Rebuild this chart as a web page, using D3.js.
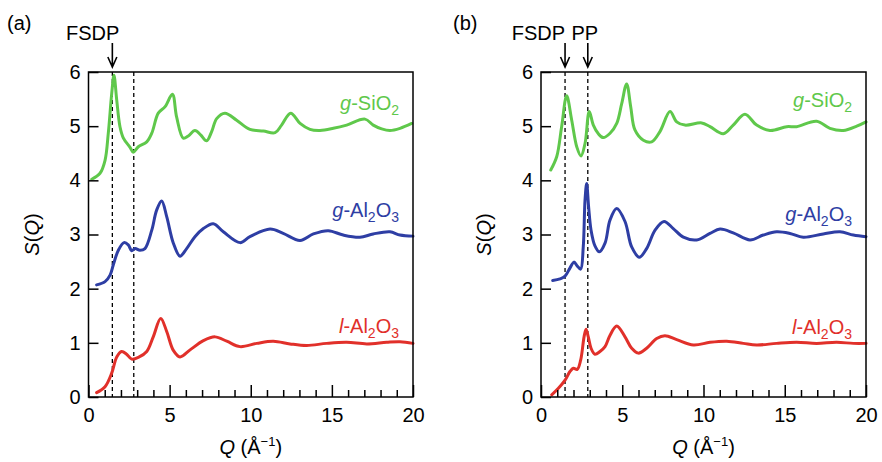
<!DOCTYPE html>
<html>
<head>
<meta charset="utf-8">
<script src="https://cdn.jsdelivr.net/npm/d3@7"></script>
<style>
  html, body { margin: 0; padding: 0; background: #fff; }
  svg { display: block; font-family: "Liberation Sans", Arial, Helvetica, sans-serif; }
</style>
</head>
<body>
<svg id="chart" width="882" height="462"></svg>
<script>
// Structure factors S(Q), offset vertically: SiO2 +4, g-Al2O3 +2, l-Al2O3 +0
// Panel (a)
const aSiO2 = [[0.2,4.02],[0.71,4.13],[1.02,4.37],[1.22,4.87],[1.43,5.6],[1.57,5.94],[1.74,5.48],[1.94,4.99],[2.15,4.78],[2.56,4.61],[2.76,4.52],[3.07,4.62],[3.59,4.71],[3.9,4.87],[4.3,5.24],[4.72,5.36],[5.17,5.59],[5.43,5.17],[5.84,4.78],[6.15,4.82],[6.56,4.92],[6.91,4.84],[7.28,4.73],[7.59,4.9],[7.9,5.14],[8.41,5.24],[9.13,5.11],[9.95,4.94],[10.78,4.91],[11.5,4.88],[11.9,5.02],[12.46,5.24],[13.04,5.05],[13.65,4.94],[14.27,4.92],[15.09,4.96],[15.91,5.02],[17.04,5.13],[17.55,5.02],[18.07,4.95],[18.58,4.92],[19.2,4.96],[19.92,5.05]];
const aGAl2O3 = [[0.5,2.07],[1.02,2.13],[1.33,2.25],[1.53,2.44],[1.84,2.71],[2.19,2.85],[2.45,2.81],[2.66,2.7],[2.87,2.74],[3.17,2.71],[3.48,2.74],[3.9,3.08],[4.2,3.45],[4.51,3.62],[4.82,3.33],[5.23,2.84],[5.64,2.6],[6.05,2.74],[6.56,2.96],[7.08,3.11],[7.69,3.2],[8.31,3.05],[9.34,2.85],[9.95,2.96],[11.19,3.1],[12.0,3.02],[13.04,2.89],[13.86,3.01],[14.78,3.07],[15.7,2.99],[16.73,2.95],[17.55,3.01],[18.58,3.05],[19.2,2.99],[20,2.97]];
const aLAl2O3 = [[0.5,0.08],[1.02,0.19],[1.43,0.44],[1.74,0.74],[2.04,0.84],[2.35,0.79],[2.66,0.7],[3.07,0.73],[3.59,0.84],[3.99,1.11],[4.45,1.45],[4.82,1.21],[5.23,0.86],[5.64,0.74],[6.26,0.87],[7.08,1.04],[7.8,1.11],[8.52,1.03],[9.34,0.93],[10.37,0.99],[11.39,1.03],[12.42,0.98],[13.45,0.95],[14.68,0.99],[15.91,1.01],[17.15,0.98],[18.38,1.01],[19.2,1.02],[20,0.99]];
// Panel (b)
const bSiO2 = [[0.6,4.19],[0.97,4.44],[1.27,4.99],[1.58,5.56],[1.89,5.11],[2.2,4.62],[2.46,4.45],[2.71,4.68],[2.97,5.27],[3.22,5.02],[3.53,4.86],[3.83,4.79],[4.25,4.87],[4.66,5.05],[4.97,5.42],[5.27,5.78],[5.52,5.36],[5.78,4.93],[6.3,4.74],[6.81,4.71],[7.32,4.9],[7.94,5.27],[8.35,5.08],[8.86,5.02],[9.89,5.06],[10.4,4.99],[11.22,4.86],[11.83,5.02],[12.55,5.22],[13.27,5.02],[14.09,4.92],[15.12,4.99],[15.73,4.99],[16.96,5.09],[17.78,4.96],[18.6,4.92],[19.43,5.0],[20,5.08]];
const bGAl2O3 = [[0.72,2.15],[1.17,2.18],[1.48,2.23],[1.78,2.38],[2.03,2.49],[2.23,2.42],[2.44,2.36],[2.6,2.77],[2.71,3.64],[2.81,3.94],[2.93,3.51],[3.08,3.08],[3.32,2.79],[3.59,2.68],[3.94,2.84],[4.25,3.27],[4.66,3.48],[5.17,3.24],[5.58,2.77],[6.05,2.58],[6.5,2.74],[7.02,3.08],[7.57,3.24],[8.14,3.11],[8.76,2.95],[9.58,2.9],[10.4,3.02],[11.02,3.1],[11.83,3.03],[12.86,2.9],[13.68,2.99],[14.5,3.05],[15.32,3.02],[16.14,2.95],[17.37,3.01],[18.4,3.05],[19.22,2.99],[20,2.96]];
const bLAl2O3 = [[0.66,0.04],[1.07,0.16],[1.48,0.31],[1.78,0.47],[1.99,0.53],[2.23,0.51],[2.44,0.68],[2.65,1.11],[2.77,1.25],[2.91,1.11],[3.08,0.9],[3.32,0.79],[3.63,0.84],[3.94,0.93],[4.25,1.14],[4.66,1.31],[5.17,1.11],[5.58,0.9],[5.99,0.81],[6.5,0.9],[7.12,1.08],[7.63,1.13],[8.35,1.06],[9.38,0.96],[10.4,1.01],[11.43,1.03],[12.45,0.99],[13.27,0.96],[14.5,0.99],[15.73,1.01],[16.96,0.99],[18.19,1.01],[19.22,0.99],[20,0.99]];

const xTicks = [0, 5, 10, 15, 20];
const yTicks = [0, 1, 2, 3, 4, 5, 6];
const markersA = [{q: 1.47, label: "FSDP"}];
const dashesA = [1.47, 2.79];
const markersB = [{q: 1.48, label: "FSDP"}, {q: 2.88, label: "PP"}];
const dashesB = [1.48, 2.88];

const GREEN = "#5fc84b", BLUE = "#2e3ea4", RED = "#e1302a";

const svg = d3.select("#chart");

function drawPanel(cfg) {
  const x = d3.scaleLinear().domain([0, 20]).range([cfg.left, cfg.right]);
  const y = d3.scaleLinear().domain([0, 6]).range([397, 72]);
  const g = svg.append("g");

  // panel tag
  g.append("text").attr("x", cfg.tagX).attr("y", 30).attr("font-size", 20).text(cfg.tag);

  // dashed reference lines
  g.selectAll("line.dash").data(cfg.dashes).enter().append("line")
    .attr("x1", d => x(d)).attr("x2", d => x(d))
    .attr("y1", y(6)).attr("y2", y(0))
    .attr("stroke", "#000").attr("stroke-width", 1.3)
    .attr("stroke-dasharray", "4,3");

  // curves
  const line = d3.line().x(d => x(d[0])).y(d => y(d[1])).curve(d3.curveCatmullRom.alpha(0.5));
  cfg.series.forEach(s => {
    g.append("path").datum(s.data).attr("d", line)
      .attr("fill", "none").attr("stroke", s.color).attr("stroke-width", 3)
      .attr("stroke-linejoin", "round").attr("stroke-linecap", "round");
  });

  // axes with inward ticks
  const xMajor = d3.axisBottom(x).tickValues(xTicks).tickFormat(d3.format("d"))
    .tickSize(-12).tickSizeOuter(0).tickPadding(11);
  const minorVals = d3.range(1, 20).filter(v => v % 5 !== 0);
  const xMinor = d3.axisBottom(x).tickValues(minorVals).tickSize(-7).tickSizeOuter(0).tickFormat("");
  const yAx = d3.axisLeft(y).tickValues(yTicks).tickFormat(d3.format("d"))
    .tickSize(-10).tickSizeOuter(0).tickPadding(8);

  const gx = g.append("g").attr("transform", `translate(0,${y(0)})`).call(xMajor);
  const gxm = g.append("g").attr("transform", `translate(0,${y(0)})`).call(xMinor);
  const gy = g.append("g").attr("transform", `translate(${x(0)},0)`).call(yAx);
  [gx, gxm, gy].forEach(a => {
    a.select(".domain").remove();
    a.selectAll("line").attr("stroke", "#000").attr("stroke-width", 1.5);
    a.selectAll("text").attr("font-size", 20).attr("fill", "#000")
      .attr("font-family", '"Liberation Sans", Arial, sans-serif');
  });

  // frame
  g.append("rect").attr("x", x(0)).attr("y", y(6))
    .attr("width", x(20) - x(0)).attr("height", y(0) - y(6))
    .attr("fill", "none").attr("stroke", "#000").attr("stroke-width", 1.5);

  // peak markers with arrows
  cfg.markers.forEach((m, i) => {
    const mx = x(m.q);
    g.append("path")
      .attr("d", `M${mx},43 L${mx},66 M${mx - 4.5},57 L${mx},67 L${mx + 4.5},57`)
      .attr("fill", "none").attr("stroke", "#000").attr("stroke-width", 1.6);
    g.append("text").attr("x", mx + cfg.labelDx[i]).attr("y", 40)
      .attr("text-anchor", cfg.labelAnchor[i]).attr("font-size", 20).text(m.label);
  });

  // series labels
  cfg.series.forEach(s => {
    const t = g.append("text").attr("x", x(20) - 14).attr("y", s.labelY)
      .attr("text-anchor", "end").attr("font-size", 20).attr("fill", s.color);
    s.parts.forEach(p => {
      const ts = t.append("tspan").text(p.t);
      if (p.i) ts.attr("font-style", "italic");
      if (p.sub) ts.attr("font-size", 14).attr("dy", 5);
      if (p.after) ts.attr("dy", -5);
    });
  });

  // axis titles
  const xt = g.append("text").attr("x", (x(0) + x(20)) / 2).attr("y", 454)
    .attr("text-anchor", "middle").attr("font-size", 20);
  xt.append("tspan").attr("font-style", "italic").text("Q");
  xt.append("tspan").text(" (Å");
  xt.append("tspan").attr("font-size", 13).attr("dy", -8).text("−1");
  xt.append("tspan").attr("dy", 8).text(")");

  const yt = g.append("text")
    .attr("transform", `translate(${cfg.yTitleX},${(y(0) + y(6)) / 2}) rotate(-90)`)
    .attr("text-anchor", "middle").attr("font-size", 20);
  yt.append("tspan").attr("font-style", "italic").text("S");
  yt.append("tspan").text("(");
  yt.append("tspan").attr("font-style", "italic").text("Q");
  yt.append("tspan").text(")");
}

const sio2Parts = [{t: "g", i: true}, {t: "-SiO"}, {t: "2", sub: true}];
const gAlParts = [{t: "g", i: true}, {t: "-Al"}, {t: "2", sub: true}, {t: "O", after: true}, {t: "3", sub: true}];
const lAlParts = [{t: "l", i: true}, {t: "-Al"}, {t: "2", sub: true}, {t: "O", after: true}, {t: "3", sub: true}];

drawPanel({
  left: 88.5, right: 413, tag: "(a)", tagX: 7, yTitleX: 39,
  dashes: dashesA, markers: markersA, labelDx: [7], labelAnchor: ["end"],
  series: [
    {data: aSiO2, color: GREEN, labelY: 110, parts: sio2Parts},
    {data: aGAl2O3, color: BLUE, labelY: 217, parts: gAlParts},
    {data: aLAl2O3, color: RED, labelY: 333, parts: lAlParts}
  ]
});
drawPanel({
  left: 541, right: 866, tag: "(b)", tagX: 453, yTitleX: 491,
  dashes: dashesB, markers: markersB, labelDx: [0, -3], labelAnchor: ["end", "middle"],
  series: [
    {data: bSiO2, color: GREEN, labelY: 107, parts: sio2Parts},
    {data: bGAl2O3, color: BLUE, labelY: 221, parts: gAlParts},
    {data: bLAl2O3, color: RED, labelY: 334, parts: lAlParts}
  ]
});
</script>
</body>
</html>
